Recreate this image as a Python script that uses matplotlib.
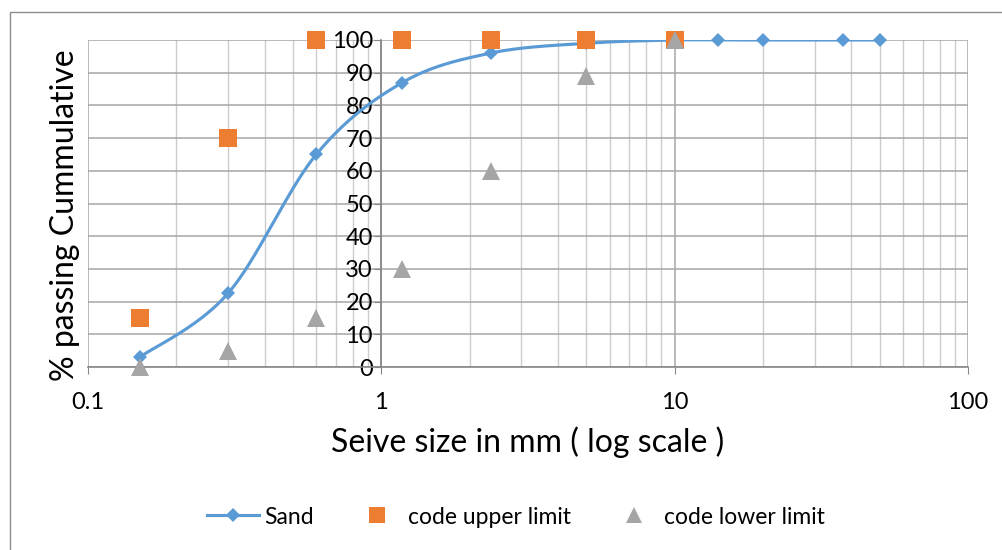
import numpy as np
import matplotlib
matplotlib.use("Agg")
import matplotlib.pyplot as plt
from matplotlib.lines import Line2D
from matplotlib.patches import Rectangle
from matplotlib.ticker import FixedLocator, LogLocator, NullFormatter

plt.rcParams['font.family'] = ['Lato', 'DejaVu Sans']

# sieve analysis
sand_size = [0.15, 0.3, 0.6, 1.18, 2.36, 5, 10, 14, 20, 37.5, 50]
sand_pass = [3, 22.5, 65, 87, 96, 99, 100, 100, 100, 100, 100]

code_size = [0.15, 0.3, 0.6, 1.18, 2.36, 5, 10]
upper_limit = [15, 70, 100, 100, 100, 100, 100]
lower_limit = [0, 5, 15, 30, 60, 89, 100]

x_ticks = [0.1, 1, 10, 100]
x_labels = ['0.1', '1', '10', '100']
y_ticks = list(range(0, 101, 10))

blue = '#5B9BD5'
orange = '#ED7D31'
grey = '#A5A5A5'

W, H = 1003, 550
fig = plt.figure(figsize=(W / 100, H / 100), dpi=100)
fig.patches.append(Rectangle((10 / W, -0.05), 1.1, 1 - 12 / H + 0.05,
                             transform=fig.transFigure, fill=False,
                             edgecolor='#8c8c8c', lw=1.0))

ax = fig.add_axes([88 / W, (H - 367) / H, 880 / W, 327 / H])
ax.set_xscale('log')
ax.set_xlim(0.1, 100)
ax.set_ylim(0, 100)

ax.xaxis.set_major_locator(FixedLocator(x_ticks))
ax.set_xticklabels(x_labels)
ax.xaxis.set_minor_locator(LogLocator(base=10, subs=np.arange(2, 10)))
ax.xaxis.set_minor_formatter(NullFormatter())
ax.set_yticks(y_ticks)

ax.grid(True, which='major', color='#a6a6a6', lw=1.1)
ax.grid(True, which='minor', axis='x', color='#cccccc', lw=1.0)
ax.set_axisbelow(True)

for s in ['top', 'right']:
    ax.spines[s].set_visible(False)
ax.spines['left'].set_position(('data', 1))
ax.spines['left'].set_color('#868686')
ax.spines['bottom'].set_color('#868686')
ax.spines['left'].set_linewidth(1.2)
ax.spines['bottom'].set_linewidth(1.2)

ax.tick_params(axis='x', which='major', length=5, color='#868686',
               labelsize=17, pad=13)
ax.tick_params(axis='x', which='minor', length=0)
ax.tick_params(axis='y', length=5, color='#868686', labelsize=17, pad=1)

ax.set_xlabel('Seive size in mm ( log scale )', fontsize=23, labelpad=10)
fig.text(65 / W, 1 - 215 / H, '% passing Cummulative', rotation=90,
         fontsize=23, ha='center', va='center')

# smoothed line: cubic Bezier segments through the points in display space
pts = ax.transData.transform(np.column_stack([sand_size, sand_pass]))
ext = np.vstack([pts[0], pts, pts[-1]])
t = np.linspace(0, 1, 40)[:, None]
curve = []
for i in range(len(pts) - 1):
    p0, p1, p2, p3 = ext[i], ext[i + 1], ext[i + 2], ext[i + 3]
    c1 = p1 + (p2 - p0) / 6
    c2 = p2 - (p3 - p1) / 6
    seg = ((1 - t) ** 3 * p1 + 3 * (1 - t) ** 2 * t * c1
           + 3 * (1 - t) * t ** 2 * c2 + t ** 3 * p2)
    curve.append(seg)
curve = ax.transData.inverted().transform(np.vstack(curve))

ax.plot(curve[:, 0], curve[:, 1], color=blue, lw=2.25, zorder=3,
        solid_capstyle='round')
ax.plot(sand_size, sand_pass, ls='none', marker='D', ms=7, color=blue,
        mew=0, zorder=3, clip_on=False)
ax.plot(code_size, upper_limit, ls='none', marker='s', ms=13, color=orange,
        mew=0, zorder=4, clip_on=False)
ax.plot(code_size, lower_limit, ls='none', marker='^', ms=13, color=grey,
        mew=0, zorder=5, clip_on=False)

handles = [
    Line2D([], [], color=blue, lw=2.25, marker='D', ms=7, mew=0),
    Line2D([], [], ls='none', color=orange, marker='s', ms=12, mew=0),
    Line2D([], [], ls='none', color=grey, marker='^', ms=12, mew=0),
]
fig.legend(handles, ['Sand', 'code upper limit', 'code lower limit'],
           loc='center', bbox_to_anchor=(516 / W, 1 - 517 / H), ncol=3,
           frameon=False, fontsize=16.5, handlelength=2.3,
           handletextpad=0.2, columnspacing=1.6)

fig.savefig('out.png', dpi=100)
